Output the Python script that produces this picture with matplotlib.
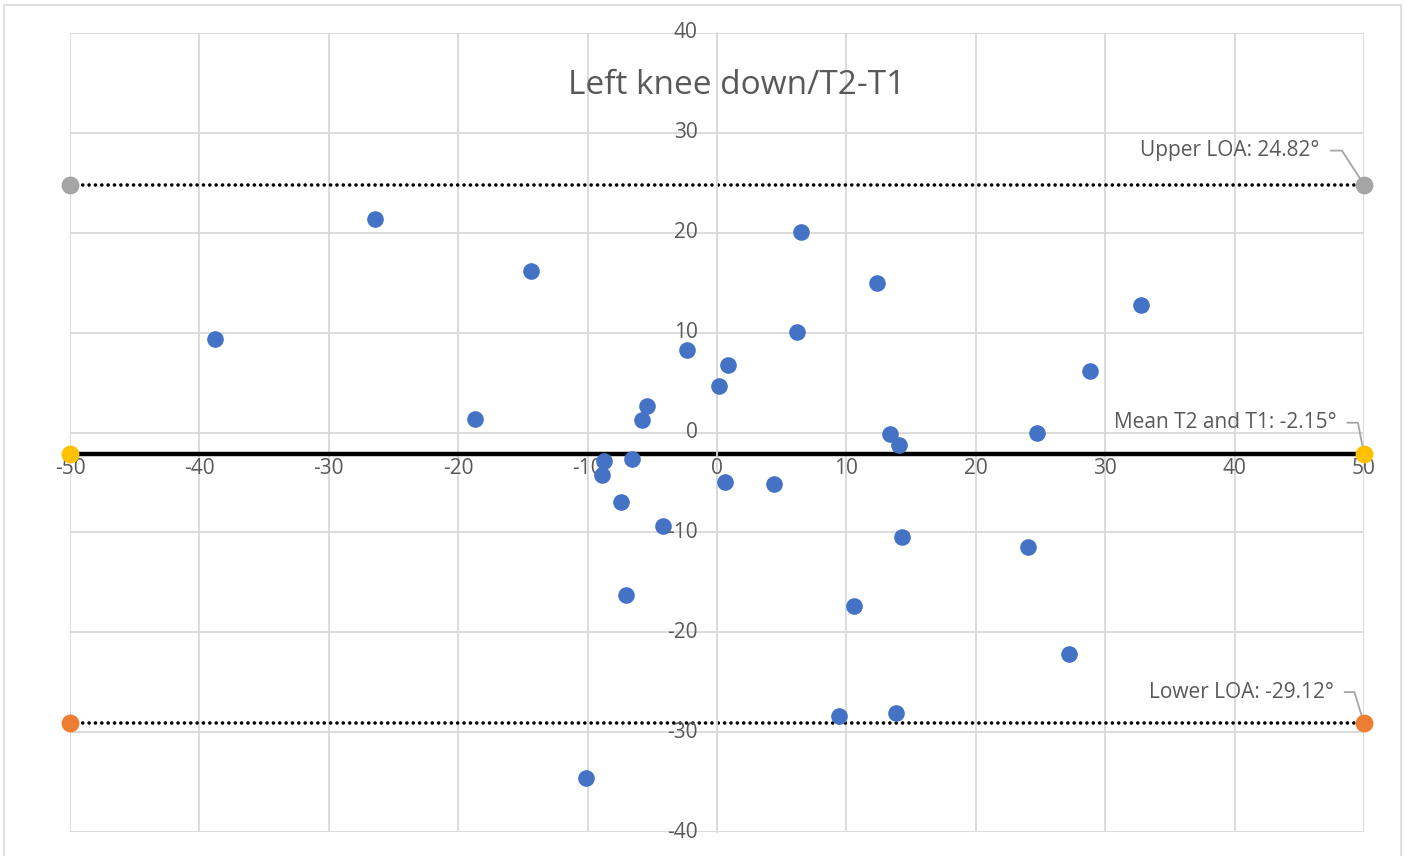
import matplotlib.pyplot as plt
from matplotlib.patches import Rectangle

plt.rcParams['font.family'] = ['Open Sans', 'DejaVu Sans']

# mean of T1 and T2 (x) vs difference T2-T1 (y)
mean_vals = [-38.8, -26.4, -14.4, -18.7, -2.3, 0.85, 0.15, -5.4, -5.8, -8.7,
             -6.6, -8.9, -7.4, -4.2, -7.0, -10.1, 0.6, 4.4, 6.5, 6.2,
             12.4, 13.4, 14.1, 14.3, 10.6, 9.4, 13.8, 24.7, 24.0, 27.2,
             28.8, 32.8]
diff_vals = [9.4, 21.4, 16.2, 1.4, 8.3, 6.8, 4.7, 2.7, 1.3, -2.9,
             -2.7, -4.3, -7.0, -9.4, -16.3, -34.6, -5.0, -5.2, 20.1, 10.1,
             15.0, -0.2, -1.3, -10.5, -17.4, -28.4, -28.1, 0.0, -11.5, -22.2,
             6.2, 12.8]

x_ends = [-50, 50]
mean_diff = -2.15
upper_loa = 24.82
lower_loa = -29.12

x_ticks = list(range(-50, 51, 10))
y_ticks = list(range(-40, 41, 10))

txt = '#595959'
grid_c = '#d9d9d9'

fig = plt.figure(figsize=(14.07, 8.56), dpi=100)
fig.patches.append(Rectangle((4 / 1407, -0.1), 1397 / 1407, 1.1 - 5 / 856,
                             transform=fig.transFigure, fill=False,
                             edgecolor=grid_c, linewidth=1.2))
ax = fig.add_axes([70 / 1407, 24 / 856, 1294 / 1407, 799 / 856])

ax.set_xlim(-50, 50)
ax.set_ylim(-40, 40)
ax.set_xticks(x_ticks)
ax.set_yticks(y_ticks)
ax.grid(True, color=grid_c, linewidth=1.3)
ax.set_axisbelow(True)

for s in ['top', 'right', 'bottom']:
    ax.spines[s].set_visible(False)
ax.spines['left'].set_position(('data', 0))
ax.spines['left'].set_color(grid_c)
ax.spines['left'].set_linewidth(1.3)
ax.tick_params(length=0)
ax.set_xticklabels([])
ax.set_yticklabels([])

# tick labels placed like Excel: x below the mean line, y left of x=0
for xv in x_ticks:
    ax.annotate(str(xv), (xv, mean_diff), xytext=(0, -3), textcoords='offset points',
                ha='center', va='top', fontsize=15, color=txt)
for yv in y_ticks:
    ax.annotate(str(yv), (0, yv), xytext=(-14, 0), textcoords='offset points',
                ha='right', va='center', fontsize=15, color=txt)

ax.scatter(mean_vals, diff_vals, s=120, color='#4472c4', zorder=3)

ax.plot(x_ends, [mean_diff] * 2, color='black', linewidth=3.2, zorder=2)
for yv in [upper_loa, lower_loa]:
    ax.plot(x_ends, [yv] * 2, color='black', linewidth=2.6,
            linestyle=(0, (0.01, 1.75)), dash_capstyle='round', zorder=2)
ax.scatter(x_ends, [mean_diff] * 2, s=140, color='#ffc000', zorder=4, clip_on=False)
ax.scatter(x_ends, [upper_loa] * 2, s=140, color='#a5a5a5', zorder=4, clip_on=False)
ax.scatter(x_ends, [lower_loa] * 2, s=140, color='#ed7d31', zorder=4, clip_on=False)

labels = [
    (upper_loa, 'Upper LOA: 24.82°', (-32, 24.5), 123),
    (mean_diff, 'Mean T2 and T1: -2.15°', (-20, 22.5), 101),
    (lower_loa, 'Lower LOA: -29.12°', (-22, 22.5), 107),
]
for yv, lab, off, angb in labels:
    ax.annotate(lab, (50, yv), xytext=off, textcoords='offset points',
                ha='right', va='center', fontsize=15, color=txt,
                annotation_clip=False,
                arrowprops=dict(arrowstyle='-', color='#a5a5a5', lw=1.3,
                                relpos=(1, 0.5), shrinkA=6, shrinkB=2,
                                connectionstyle=f'angle,angleA=0,angleB={angb},rad=0'))

ax.text(0.515, 0.934, 'Left knee down/T2-T1', transform=ax.transAxes,
        ha='center', va='center', fontsize=24, color=txt)

fig.savefig('out.png', dpi=100)
